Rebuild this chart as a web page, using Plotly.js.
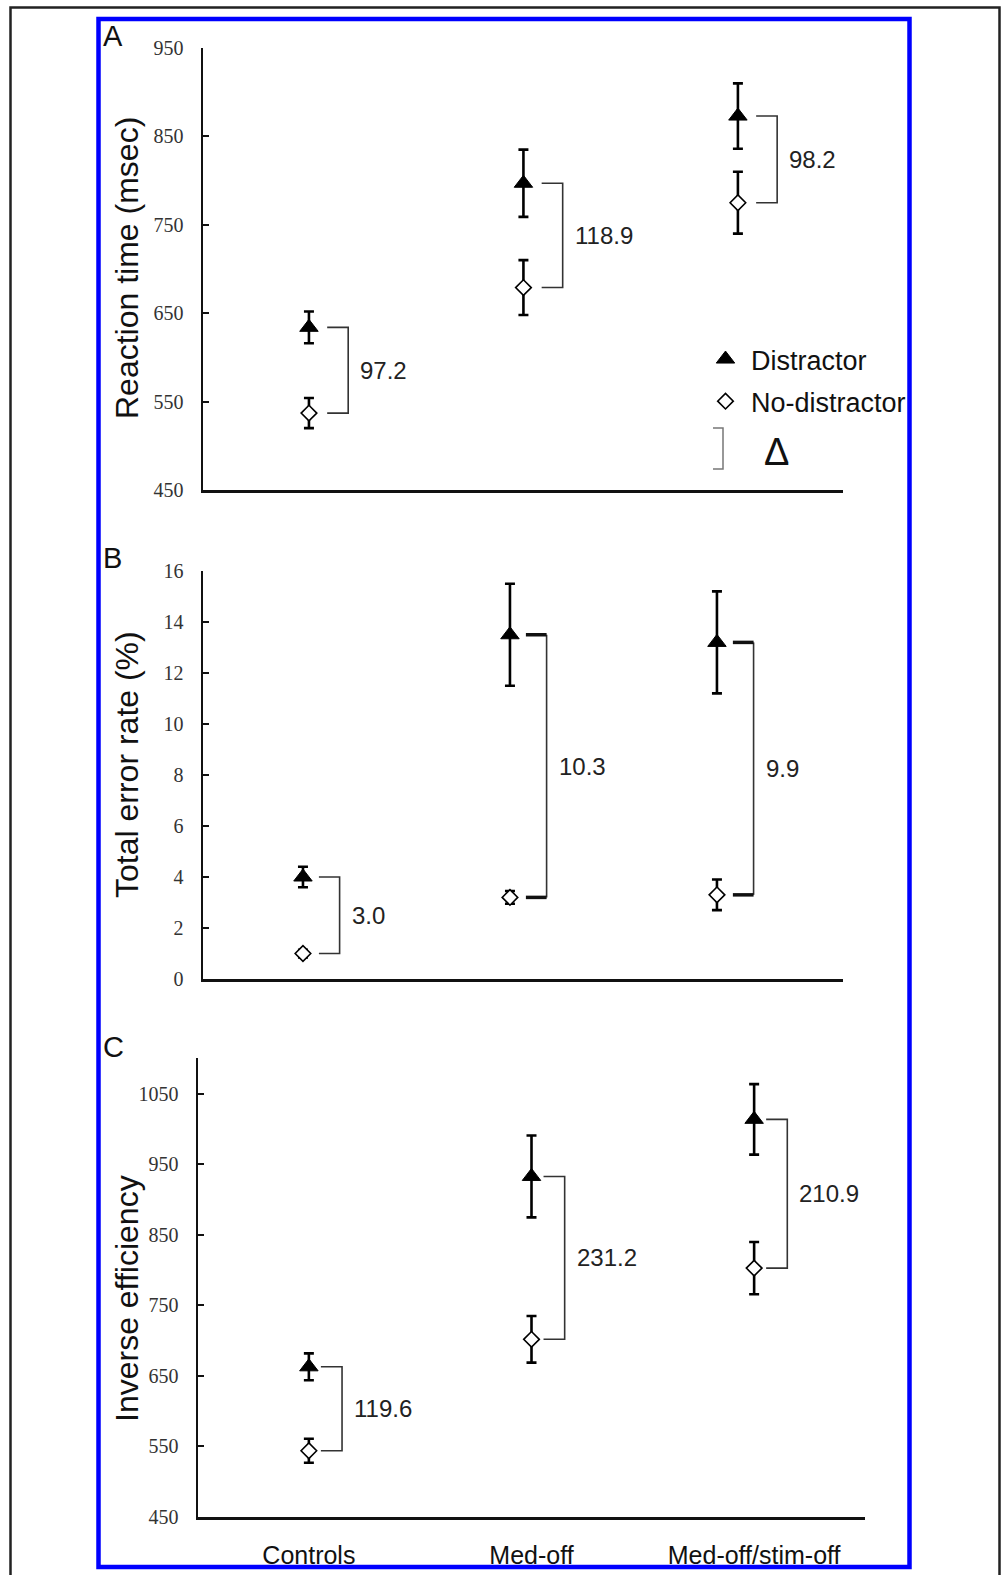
<!DOCTYPE html>
<html>
<head>
<meta charset="utf-8">
<script src="https://cdn.plot.ly/plotly-3.0.1.min.js"></script>
<style>html,body{margin:0;padding:0;background:#fff;}#chart{width:1001px;height:1575px;}</style>
</head>
<body>
<div id="chart"></div>
<script>
// ---------- data ----------
const categories = ['Controls', 'Med-off', 'Med-off/stim-off'];

const rtDistractor = [634, 797, 873];
const rtDistractorErr = [18, 38, 37];
const rtNoDistractor = [537, 679, 775];
const rtNoDistractorErr = [17, 31, 35];
const rtDelta = ['97.2', '118.9', '98.2'];

const errDistractor = [4.0, 13.5, 13.2];
const errDistractorErr = [0.4, 2.0, 2.0];
const errNoDistractor = [1.0, 3.2, 3.3];
const errNoDistractorErr = [0.15, 0.25, 0.6];
const errDelta = ['3.0', '10.3', '9.9'];

const ieDistractor = [663, 933, 1014];
const ieDistractorErr = [19, 58, 50];
const ieNoDistractor = [544, 702, 803];
const ieNoDistractorErr = [17, 33, 37];
const ieDelta = ['119.6', '231.2', '210.9'];

const rtTicks = [450, 550, 650, 750, 850, 950];
const errTicks = [0, 2, 4, 6, 8, 10, 12, 14, 16];
const ieTicks = [450, 550, 650, 750, 850, 950, 1050];

const panelLetters = ['A', 'B', 'C'];
const yTitles = ['Reaction time (msec)', 'Total error rate (%)', 'Inverse efficiency'];
const legendNames = ['Distractor', 'No-distractor'];

// ---------- layout helpers ----------
const W = 1001, H = 1575;
const X = px => px / W;
const Y = py => 1 - py / H;
const SANS = 'Liberation Sans, Arial, sans-serif';
const SERIF = 'Liberation Serif, Times New Roman, serif';
const idx = categories.map((c, i) => i);

const panels = [
  {ax: '', dist: rtDistractor, distE: rtDistractorErr, nod: rtNoDistractor, nodE: rtNoDistractorErr, delta: rtDelta,
   xdom: [X(203), X(843)], ydom: [Y(490), Y(48)], xr: [-0.494, 2.49], yr: [450, 950], ticks: rtTicks,
   gap: 0.085, bw: 0.098, thick: [false, false, false], titleY: 268},
  {ax: '2', dist: errDistractor, distE: errDistractorErr, nod: errNoDistractor, nodE: errNoDistractorErr, delta: errDelta,
   xdom: [X(203), X(843)], ydom: [Y(979), Y(571)], xr: [-0.483, 2.609], yr: [0, 16], ticks: errTicks,
   gap: 0.077, bw: 0.1, thick: [false, true, true], titleY: 765},
  {ax: '3', dist: ieDistractor, distE: ieDistractorErr, nod: ieNoDistractor, nodE: ieNoDistractorErr, delta: ieDelta,
   xdom: [X(198), X(865)], ydom: [Y(1517), Y(1058)], xr: [-0.498, 2.498], yr: [450, 1101], ticks: ieTicks,
   gap: 0.054, bw: 0.095, thick: [false, false, false], titleY: 1299}
];

const traces = [];
const annotations = [];
const shapes = [];
const layout = {
  width: W, height: H,
  margin: {l: 0, r: 0, t: 0, b: 0},
  paper_bgcolor: '#ffffff', plot_bgcolor: 'rgba(0,0,0,0)',
  showlegend: true,
  legend: {
    x: X(700), xanchor: 'left', y: Y(335), yanchor: 'top',
    font: {family: SANS, size: 27, color: '#111'},
    bgcolor: 'rgba(0,0,0,0)', tracegroupgap: 4, itemwidth: 41
  },
  annotations: annotations,
  shapes: shapes
};

panels.forEach((p, k) => {
  const xa = 'x' + p.ax, ya = 'y' + p.ax;
  const xKey = 'xaxis' + p.ax, yKey = 'yaxis' + p.ax;

  layout[xKey] = {
    domain: p.xdom, range: p.xr, anchor: ya, fixedrange: true,
    showline: true, linecolor: '#111', linewidth: 2.5,
    showgrid: false, zeroline: false, ticks: '',
    tickvals: idx, ticktext: categories,
    showticklabels: k === 2,
    tickfont: {family: SANS, size: 25, color: '#111'},
    ticklabelstandoff: 14
  };
  layout[yKey] = {
    domain: p.ydom, range: p.yr, anchor: xa, fixedrange: true,
    showline: true, linecolor: '#111', linewidth: 2.5,
    showgrid: false, zeroline: false,
    ticks: 'inside', ticklen: 6, tickwidth: 2, tickcolor: '#111',
    tickvals: p.ticks,
    tickfont: {family: SERIF, size: 20, color: '#333'},
    ticklabelstandoff: 13
  };

  // brackets (thin vertical + horizontals)
  const bx = [], by = [];
  const sx = [], sy = [];
  idx.forEach(i => {
    const x0 = i + p.gap, x1 = i + p.gap + p.bw;
    if (p.thick[i]) {
      bx.push(x1, x1, null);
      by.push(p.dist[i], p.nod[i], null);
      sx.push(x0, x1, null, x0, x1, null);
      sy.push(p.dist[i], p.dist[i], null, p.nod[i], p.nod[i], null);
    } else {
      bx.push(x0, x1, x1, x0, null);
      by.push(p.dist[i], p.dist[i], p.nod[i], p.nod[i], null);
    }
    annotations.push({
      xref: xa, yref: ya, x: x1, y: (p.dist[i] + p.nod[i]) / 2,
      xanchor: 'left', yanchor: 'middle', xshift: 10, showarrow: false,
      text: p.delta[i], font: {family: SANS, size: 24, color: '#222'}
    });
  });
  traces.push({type: 'scatter', mode: 'lines', x: bx, y: by, xaxis: xa, yaxis: ya,
    line: {color: '#333', width: 1.6}, showlegend: false, hoverinfo: 'skip'});
  if (sx.length) {
    traces.push({type: 'scatter', mode: 'lines', x: sx, y: sy, xaxis: xa, yaxis: ya,
      line: {color: '#111', width: 3.5}, showlegend: false, hoverinfo: 'skip'});
  }

  // data points
  traces.push({
    type: 'scatter', mode: 'markers', name: legendNames[0], legendgroup: 'g1',
    x: idx, y: p.dist, xaxis: xa, yaxis: ya, showlegend: k === 0,
    marker: {symbol: 'triangle-up', size: 16, color: '#000', line: {color: '#000', width: 1}},
    error_y: {type: 'data', array: p.distE, visible: true, color: '#000', thickness: 2.6, width: 5}
  });
  traces.push({
    type: 'scatter', mode: 'markers', name: legendNames[1], legendgroup: 'g2',
    x: idx, y: p.nod, xaxis: xa, yaxis: ya, showlegend: k === 0,
    marker: {symbol: 'diamond', size: 12, color: '#fff', line: {color: '#000', width: 1.6}},
    error_y: {type: 'data', array: p.nodE, visible: true, color: '#000', thickness: 2.6, width: 5}
  });

  // y title
  annotations.push({
    xref: 'paper', yref: 'paper', x: X(127), y: Y(p.titleY), textangle: -90,
    xanchor: 'center', yanchor: 'middle', showarrow: false,
    text: yTitles[k], font: {family: SANS, size: 32, color: '#111'}
  });
});

// panel letters
[36, 558, 1047].forEach((py, k) => {
  annotations.push({
    xref: 'paper', yref: 'paper', x: X(101), y: Y(py), xanchor: 'left', yanchor: 'middle',
    showarrow: false, text: panelLetters[k], font: {family: SANS, size: 29, color: '#111'}
  });
});

// legend delta item
shapes.push({type: 'path', xref: 'paper', yref: 'paper',
  path: `M ${X(713)} ${Y(428)} L ${X(723)} ${Y(428)} L ${X(723)} ${Y(469)} L ${X(713)} ${Y(469)}`,
  line: {color: '#777', width: 1.5}});
annotations.push({xref: 'paper', yref: 'paper', x: X(776), y: Y(452), xanchor: 'center', yanchor: 'middle',
  showarrow: false, text: 'Δ', font: {family: SANS, size: 38, color: '#111'}});

// frames
shapes.push({type: 'rect', xref: 'paper', yref: 'paper', x0: X(98.5), x1: X(909.5), y0: Y(1567), y1: Y(19),
  line: {color: '#0000ff', width: 4.5}, fillcolor: 'rgba(0,0,0,0)', layer: 'below'});
shapes.push({type: 'path', xref: 'paper', yref: 'paper',
  path: `M ${X(10.5)} ${Y(1580)} L ${X(10.5)} ${Y(7.5)} L ${X(999.5)} ${Y(7.5)} L ${X(999.5)} ${Y(1580)}`,
  line: {color: '#222', width: 2.5}});

Plotly.newPlot('chart', traces, layout, {staticPlot: true, displayModeBar: false});
</script>
</body>
</html>
